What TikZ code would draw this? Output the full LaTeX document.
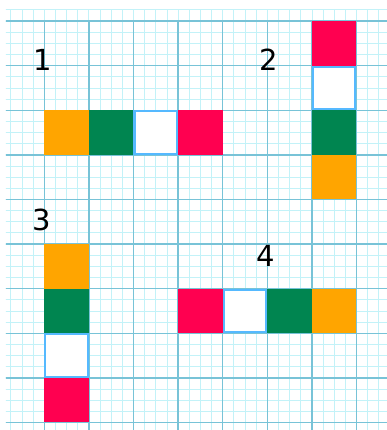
\documentclass[tikz,border=0pt]{standalone}
\usepackage{fontspec}
\setmainfont{DejaVu Sans}
\definecolor{cOrange}{RGB}{255,165,0}
\definecolor{cGreen}{RGB}{0,133,80}
\definecolor{cRed}{RGB}{255,0,80}
\definecolor{cBlue}{RGB}{85,185,255}
\definecolor{gridMajor}{RGB}{120,195,215}
\definecolor{gridMinor}{RGB}{195,242,248}
\tikzset{
  cell/.style={minimum size=1cm, inner sep=0pt, outer sep=0pt, anchor=south west},
  orangecell/.style={cell, fill=cOrange},
  greencell/.style={cell, fill=cGreen},
  redcell/.style={cell, fill=cRed},
  whitecell/.style={cell, fill=white, draw=cBlue, line width=1.3pt, inner sep=0pt, minimum size=1cm-1.3pt, anchor=center},
  lbl/.style={font=\fontsize{18.5}{18.5}\selectfont, inner sep=0pt}
}
\begin{document}
\begin{tikzpicture}
\useasboundingbox (-0.993,-9.170) rectangle (7.684,0.471);
\begin{scope}
\clip (-0.859,-9.170) rectangle (7.684,0.25);
\draw[gridMinor, line width=0.5pt, step=0.25] (-1,-9.5) grid (7.75,0.5);
\draw[gridMajor, line width=0.9pt, step=1] (-1,-10) grid (8,0);
\end{scope}
% group 1
\node[orangecell] (o1) at (0,-3) {};
\node[greencell] (g1) at (1,-3) {};
\node[whitecell] (w1) at (2.5,-2.5) {};
\node[redcell] (r1) at (3,-3) {};
% group 2
\node[redcell] (r2) at (6,-1) {};
\node[whitecell] (w2) at (6.5,-1.5) {};
\node[greencell] (g2) at (6,-3) {};
\node[orangecell] (o2) at (6,-4) {};
% group 3
\node[orangecell] (o3) at (0,-6) {};
\node[greencell] (g3) at (0,-7) {};
\node[whitecell] (w3) at (0.5,-7.5) {};
\node[redcell] (r3) at (0,-9) {};
% group 4
\node[redcell] (r4) at (3,-7) {};
\node[whitecell] (w4) at (4.5,-6.5) {};
\node[greencell] (g4) at (5,-7) {};
\node[orangecell] (o4) at (6,-7) {};
% labels
\node[lbl] (l1) at (-0.03,-0.874) {1};
\node[lbl] (l2) at (5.04,-0.874) {2};
\node[lbl] (l3) at (-0.05,-4.46) {3};
\node[lbl] (l4) at (4.97,-5.27) {4};
\end{tikzpicture}
\end{document}
